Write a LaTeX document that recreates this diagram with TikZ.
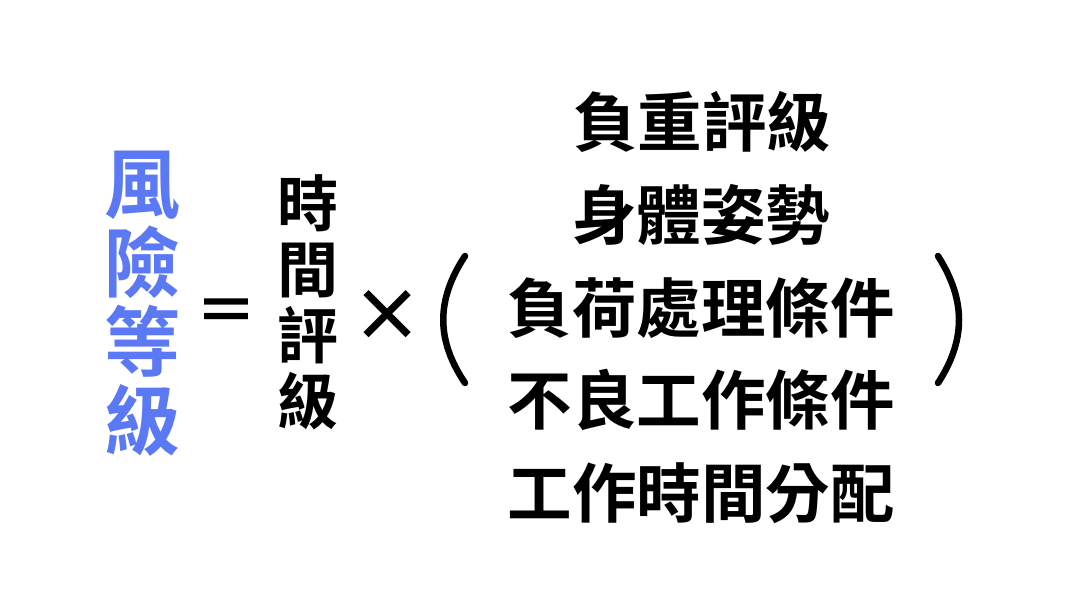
\documentclass[tikz,border=0pt]{standalone}
\usepackage{fontspec}
\newfontfamily\cjk{Noto Sans CJK TC Bold}
\definecolor{riskblue}{HTML}{5B78F5}
\begin{document}
\begin{tikzpicture}[x=1pt,y=-1pt,
  txt/.style={inner sep=0pt,font=\cjk\fontsize{64.5}{66}\selectfont,text=black},
  vcol/.style={inner sep=0pt,align=center},
  paren/.style={line width=6.5pt,line cap=round,draw=black}]
\useasboundingbox[fill=white] (0,0) rectangle (1080,608);
\node[vcol,font=\cjk\fontsize{76}{79}\selectfont,text=riskblue] (risk) at (142,304) {風\\險\\等\\級};
\node[txt,font=\cjk\fontsize{62}{62}\selectfont] (eq) at (226,316) {＝};
\node[vcol,font=\cjk\fontsize{61}{66}\selectfont] (time) at (308,302) {時\\間\\評\\級};
\node[txt,font=\cjk\fontsize{72}{72}\selectfont] (times) at (387,316) {×};
\node[txt] (l1) at (702,122) {負重評級};
\node[txt] (l2) at (701,215) {身體姿勢};
\node[txt] (l3) at (701,308) {負荷處理條件};
\node[txt] (l4) at (701,400) {不良工作條件};
\node[txt] (l5) at (701,493) {工作時間分配};
\coordinate (lpt) at (465,256);
\coordinate (lpb) at (465,383);
\coordinate (rpt) at (938,256);
\coordinate (rpb) at (938,383);
\draw[paren] (lpt) .. controls (436,300) and (436,340) .. (lpb);
\draw[paren] (rpt) .. controls (966,300) and (966,340) .. (rpb);
\end{tikzpicture}
\end{document}
